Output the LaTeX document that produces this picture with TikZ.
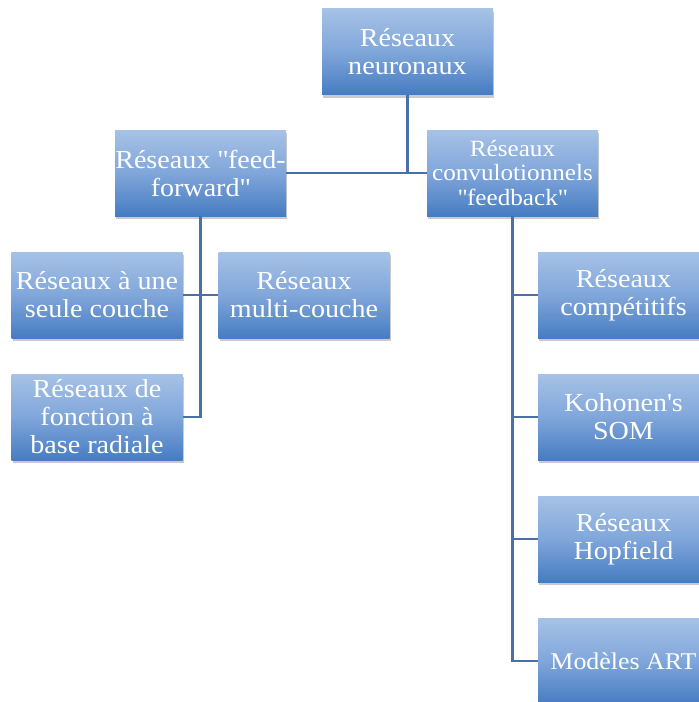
\documentclass[tikz,border=0pt]{standalone}
\usepackage{fontspec}
\setmainfont[FakeStretch=1.08]{Liberation Serif}
\usetikzlibrary{shadows,calc}
\definecolor{boxtop}{RGB}{166,194,230}
\definecolor{boxmid}{RGB}{128,166,218}
\definecolor{boxbot}{RGB}{70,124,194}
\definecolor{linec}{RGB}{74,112,168}
\tikzset{
  boxnode/.style={minimum width=171pt, minimum height=86pt, inner sep=0pt,
    top color=boxtop, bottom color=boxbot, middle color=boxmid,
    text=white, align=center,
    font=\fontsize{26}{28}\selectfont,
    drop shadow={shadow xshift=1pt, shadow yshift=-3pt, opacity=0.35, fill=black!60}},
  smallbox/.style={boxnode, font=\fontsize{23.3}{24.5}\selectfont},
  conn/.style={draw=linec, line width=2.2pt}
}
\begin{document}
\begin{tikzpicture}[x=1pt,y=-1pt]
\useasboundingbox (0,0) rectangle (699,702);
\node[boxnode] (top) at (407.5,51.5) {Réseaux\\neuronaux};
\node[boxnode] (ff) at (200.5,173) {Réseaux \textquotedbl feed-\\forward\textquotedbl};
\node[smallbox] (fb) at (512.5,173) {Réseaux\\convulotionnels\\\textquotedbl feedback\textquotedbl};
\node[boxnode] (seule) at (97,295) {Réseaux à une\\seule couche};
\node[boxnode] (multi) at (304,295) {Réseaux\\multi-couche};
\node[boxnode] (radiale) at (97,417) {Réseaux de\\fonction à\\base radiale};
\node[boxnode] (comp) at (623.5,295) {Réseaux\\compétitifs};
\node[boxnode] (koh) at (623.5,417) {Kohonen\textquotesingle s\\SOM};
\node[boxnode] (hop) at (623.5,539) {Réseaux\\Hopfield};
\node[boxnode, font=\fontsize{24}{28}\selectfont] (art) at (623.5,661) {Modèles ART};

\draw[conn] (ff.east) -- (fb.west);
\draw[conn] (top.south) -- (top.south |- ff.east);
\draw[conn] (ff.south) -- (ff.south |- radiale.east) -- (radiale.east);
\draw[conn] (seule.east) -- (multi.west);
\draw[conn] (fb.south) -- (fb.south |- art.west) -- (art.west);
\draw[conn] (fb.south |- comp.west) -- (comp.west);
\draw[conn] (fb.south |- koh.west) -- (koh.west);
\draw[conn] (fb.south |- hop.west) -- (hop.west);
\end{tikzpicture}
\end{document}
